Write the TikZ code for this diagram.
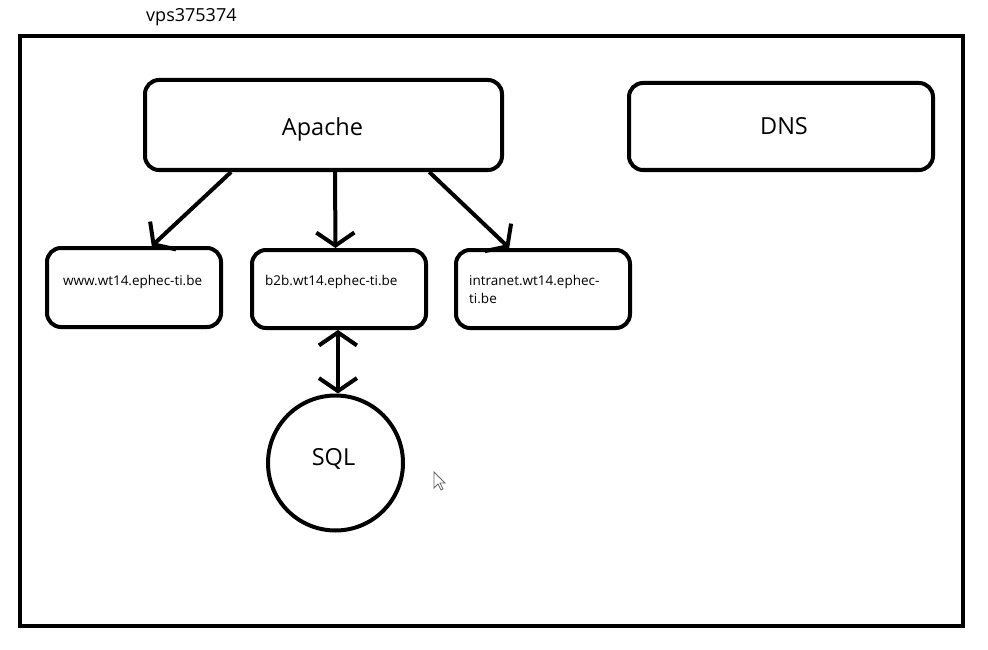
\documentclass[tikz,border=0pt]{standalone}
\usepackage{fontspec}
\setmainfont{Open Sans}
\usetikzlibrary{arrows.meta,calc}
\begin{document}
\begin{tikzpicture}[x=1pt,y=-1pt,
  box/.style={draw,line width=4pt,rounded corners=14pt,inner sep=0pt},
  small/.style={font=\fontsize{13.5}{17}\selectfont,inner sep=0pt,anchor=base west},
  big/.style={font=\fontsize{23.5}{28}\selectfont,inner sep=0pt,anchor=base},
  arr/.style={line width=4pt,-{Straight Barb[length=13pt,width=38pt,line width=4pt]}},
  darr/.style={line width=4pt,{Straight Barb[length=13pt,width=38pt,line width=4pt]}-{Straight Barb[length=13pt,width=38pt,line width=4pt]}}]
\useasboundingbox (0,0) rectangle (988,650);
% outer frame
\node[draw,line width=4pt,inner sep=0pt,minimum width=943pt,minimum height=590pt] (vps) at (491.5,331) {};
\node[font=\fontsize{18}{22}\selectfont,inner sep=0pt,anchor=base west] (vpst) at (146,21.5) {vps375374};
% boxes
\node[box,minimum width=357pt,minimum height=90pt] (apache) at (323.5,125) {};
\node[big] (apachet) at (322.5,136) {Apache};
\node[box,minimum width=304pt,minimum height=87pt] (dns) at (781,126.5) {};
\node[big] (dnst) at (784,135) {DNS};
\node[box,minimum width=174pt,minimum height=79pt] (www) at (134,287.5) {};
\node[small] (wwwt) at (63,285) {www.wt14.ephec-ti.be};
\node[box,minimum width=174pt,minimum height=78pt] (b2b) at (339,289) {};
\node[small] (b2bt) at (265,285) {b2b.wt14.ephec-ti.be};
\node[box,minimum width=174pt,minimum height=78pt] (intra) at (543,289) {};
\node[small] (intrat1) at (469,285) {intranet.wt14.ephec-};
\node[small] (intrat2) at (469,303) {ti.be};
\node[draw,circle,line width=4pt,inner sep=0pt,minimum size=135pt] (sql) at (335.5,463) {};
\node[big] (sqlt) at (333.5,465) {SQL};
% connectors
\coordinate (a1) at ($(apache.south west)!0.244!(apache.south east)$);
\coordinate (a2) at ($(apache.south west)!0.532!(apache.south east)$);
\coordinate (a3) at ($(apache.south west)!0.793!(apache.south east)$);
\coordinate (w1) at ($(www.north west)!0.60!(www.north east)$);
\coordinate (b1) at ($(b2b.north west)!0.48!(b2b.north east)$);
\coordinate (i1) at ($(intra.north west)!0.31!(intra.north east)$);
\draw[arr] (a1) -- (w1);
\draw[arr] (a2) -- (b1);
\draw[arr] (a3) -- (i1);
\coordinate (b2) at ($(b2b.south west)!0.494!(b2b.south east)$);
\draw[darr] (b2) -- (b2 |- sql.north);
% mouse cursor
\draw[gray!80!black,fill=white,line width=0.8pt,line join=miter]
  (434,472) -- (434,488) -- (438,484) -- (441,490) -- (443,489) -- (440,483) -- (445,483) -- cycle;
\end{tikzpicture}
\end{document}
